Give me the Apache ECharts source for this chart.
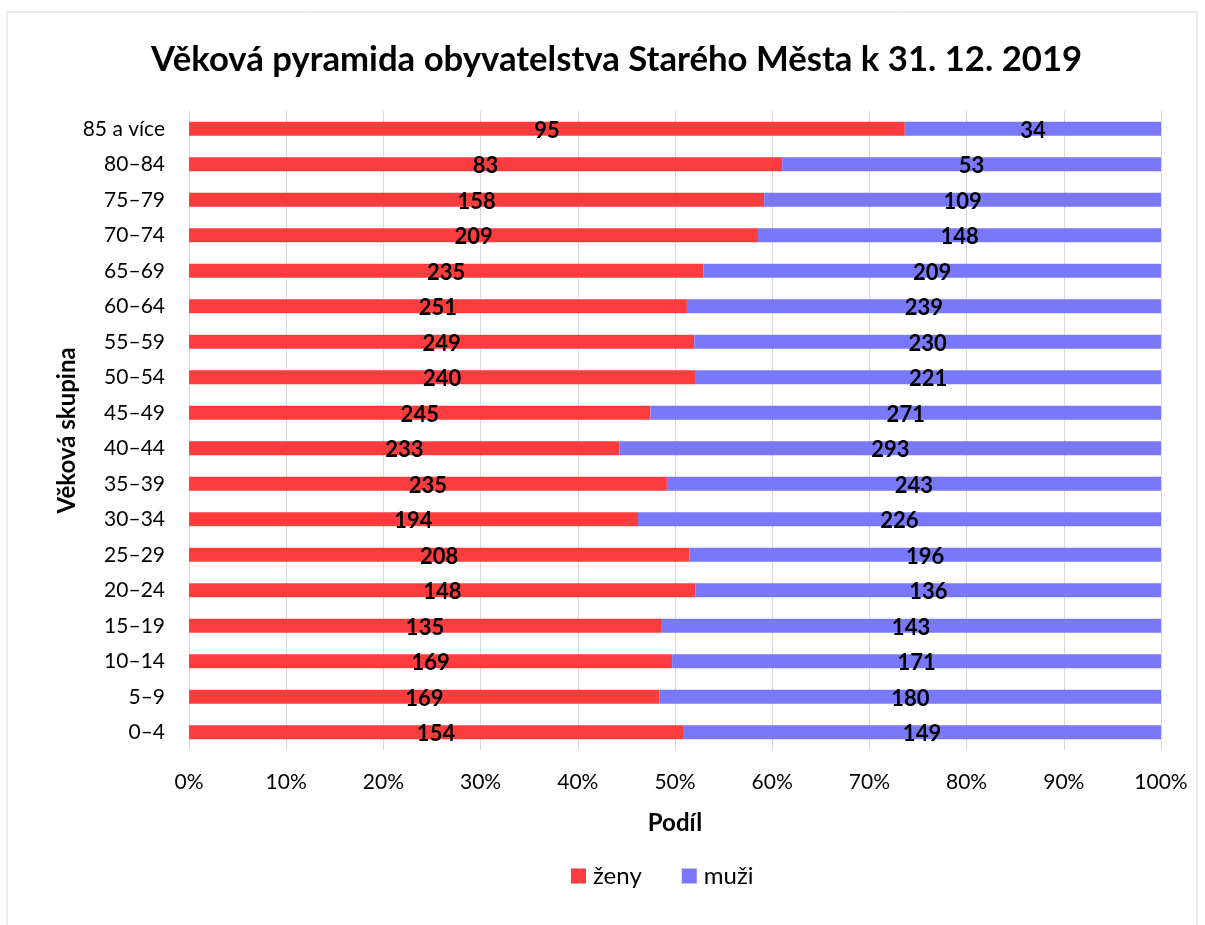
<!DOCTYPE html>
<html>
<head>
<meta charset="utf-8">
<script src="https://cdn.jsdelivr.net/npm/echarts@6/dist/echarts.min.js"></script>
<style>
  html, body { margin: 0; padding: 0; background: #fff; }
  #chart { width: 1205px; height: 925px; }
</style>
</head>
<body>
<div id="chart"></div>
<script>
// věkové skupiny (odspodu nahoru)
const categories = ['0–4', '5–9', '10–14', '15–19', '20–24', '25–29', '30–34', '35–39', '40–44',
  '45–49', '50–54', '55–59', '60–64', '65–69', '70–74', '75–79', '80–84', '85 a více']
const zeny = [154, 169, 169, 135, 148, 208, 194, 235, 233, 245, 240, 249, 251, 235, 209, 158, 83, 95]
const muzi = [149, 180, 171, 143, 136, 196, 226, 243, 293, 271, 221, 230, 239, 209, 148, 109, 53, 34]
const xTicks = [0, 10, 20, 30, 40, 50, 60, 70, 80, 90, 100]

const font = 'Lato, "Open Sans", sans-serif'

// podíl v % pro 100% skládaný graf, popisek ukazuje počet
const share = (arr) => arr.map((v, i) => ({ value: v / (zeny[i] + muzi[i]) * 100, count: v }))

const chart = echarts.init(document.getElementById('chart'))

const labelStyle = {
  show: true,
  position: 'inside',
  formatter: (p) => p.data.count,
  color: '#000',
  fontWeight: 'bold',
  fontSize: 22,
  fontFamily: font,
  offset: [0, 2]
}

const option = {
  backgroundColor: '#fff',
  animation: false,
  graphic: [{
    type: 'rect',
    shape: { x: 7, y: 12, width: 1190, height: 930 },
    style: { fill: 'none', stroke: '#d9d9d9', lineWidth: 1 },
    z: -1
  }],
  title: {
    text: 'Věková pyramida obyvatelstva Starého Města k 31. 12. 2019',
    left: 146,
    top: 37,
    textStyle: { fontSize: 34.7, fontWeight: 'bold', color: '#000', fontFamily: font }
  },
  legend: {
    bottom: 32,
    left: 566,
    itemWidth: 15,
    itemHeight: 15,
    itemGap: 40,
    icon: 'rect',
    textStyle: { fontSize: 24, color: '#000', fontFamily: font, padding: [0, 0, 0, 2] },
    data: ['ženy', 'muži']
  },
  grid: { left: 189, right: 44, top: 111, bottom: 175 },
  xAxis: {
    type: 'value',
    min: 0,
    max: 100,
    interval: 10,
    name: 'Podíl',
    nameLocation: 'middle',
    nameGap: 61,
    nameTextStyle: { fontSize: 24, fontWeight: 'bold', color: '#000', fontFamily: font },
    axisLabel: {
      formatter: (v) => xTicks.includes(v) ? v + '%' : '',
      fontSize: 21, color: '#000', fontFamily: font, margin: 22
    },
    axisLine: { show: false },
    axisTick: { show: false },
    splitLine: { show: true, lineStyle: { color: '#d9d9d9', width: 1 } }
  },
  yAxis: {
    type: 'category',
    data: categories,
    name: 'Věková skupina',
    nameLocation: 'middle',
    nameGap: 110,
    nameMoveOverlap: false,
    nameTextStyle: { fontSize: 24, fontWeight: 'bold', color: '#000', fontFamily: font },
    axisLabel: { fontSize: 21, color: '#000', fontFamily: font, margin: 24 },
    axisLine: { show: false },
    axisTick: { show: false }
  },
  series: [
    {
      name: 'ženy',
      type: 'bar',
      stack: 'total',
      barWidth: 14,
      itemStyle: { color: '#fd3d3d' },
      label: labelStyle,
      data: share(zeny)
    },
    {
      name: 'muži',
      type: 'bar',
      stack: 'total',
      barWidth: 14,
      itemStyle: { color: '#7878f8' },
      label: labelStyle,
      data: share(muzi)
    }
  ]
}

chart.setOption(option)
</script>
</body>
</html>
